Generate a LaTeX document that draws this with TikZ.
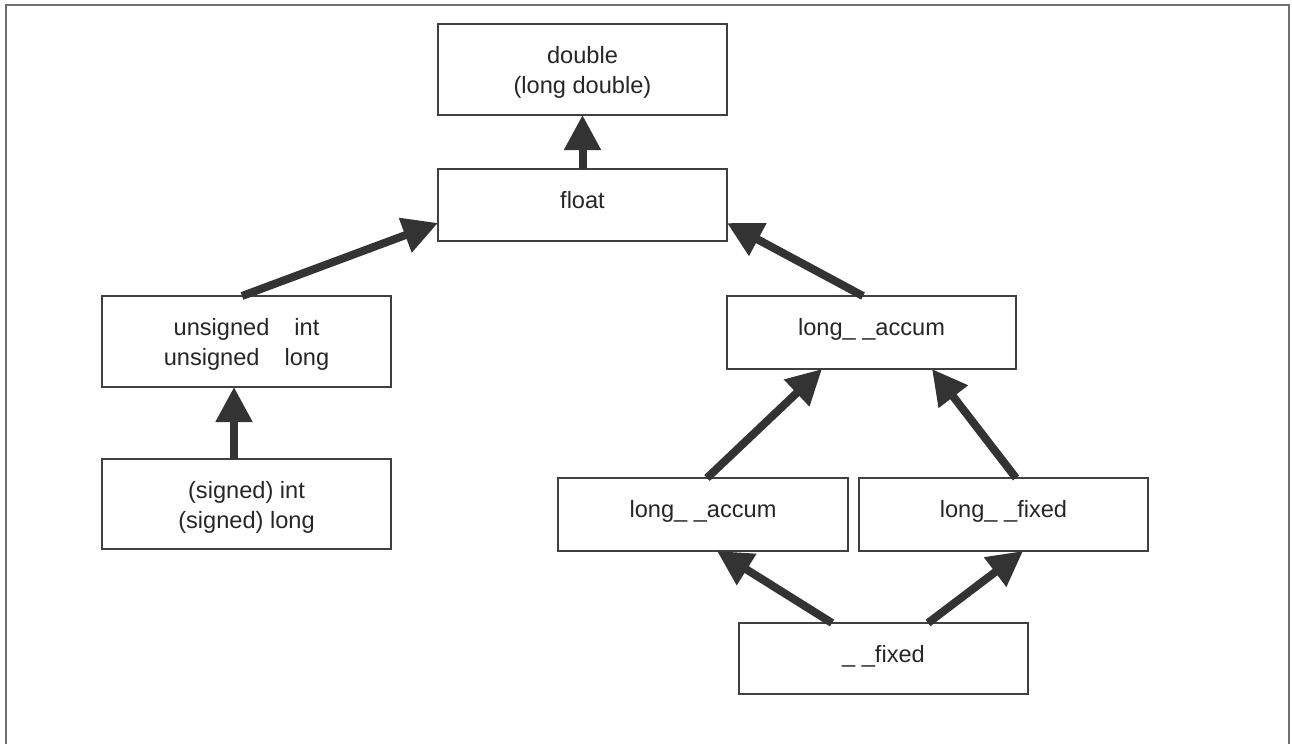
\documentclass[tikz,border=0pt]{standalone}
\usepackage{fontspec}
\setmainfont{Liberation Sans}
\usetikzlibrary{arrows.meta}
\definecolor{edgegray}{HTML}{404040}
\definecolor{arrowgray}{HTML}{333333}
\definecolor{framegray}{HTML}{707070}
% two centred lines, baseline on the first one
\newcommand{\twolines}[2]{\vtop{\baselineskip=15pt\halign{\hfil##\hfil\cr #1\cr #2\cr}}}
\tikzset{
  typebox/.style n args={2}{draw=edgegray, line width=1pt, rectangle, anchor=north west,
    minimum width=#1*0.5pt, minimum height=#2*0.5pt, inner sep=0pt, outer sep=0pt},
  boxtext/.style={anchor=base, yshift=-19.5pt, inner sep=0pt, text=black!85, font=\fontsize{11.8pt}{15pt}\selectfont},
  promote/.style={draw=arrowgray, line width=4pt, -{Triangle[length=17.5pt,width=17.5pt]}},
}
\begin{document}
\begin{tikzpicture}[x=0.5pt, y=-0.5pt]
\useasboundingbox (0,0) rectangle (1292,744);
\draw[framegray, line width=1pt] (6,744) -- (6,5) -- (1289,5) -- (1289,744);

% boxes
\node[typebox={289}{91}, label={[boxtext]north:\twolines{double}{(long double)}}] (dbl) at (438,24) {};
\node[typebox={289}{72}, label={[boxtext]north:float}] (flt) at (438,169) {};
\node[typebox={289}{91}, label={[boxtext]north:\twolines{unsigned\hspace{12.5pt}int}{unsigned\hspace{12.5pt}long}}] (uns) at (102,296) {};
\node[typebox={289}{90}, label={[boxtext]north:\twolines{(signed) int}{(signed) long}}] (sgn) at (102,459) {};
\node[typebox={289}{73}, label={[boxtext]north:long\_ \_accum}] (acc) at (727,296) {};
\node[typebox={290}{73}, label={[boxtext]north:long\_ \_accum}] (accm) at (558,478) {};
\node[typebox={289}{73}, label={[boxtext]north:long\_ \_fixed}] (fixm) at (859,478) {};
\node[typebox={289}{71}, label={[boxtext]north:\_ \_fixed}] (fix) at (739,623) {};

% promotion arrows
\draw[promote] (flt.north) -- (dbl.south);
\draw[promote] ([shift={(140,0)}]uns.north west) -- ([shift={(0,54)}]flt.north west);
\draw[promote] ([shift={(136,0)}]acc.north west) -- ([shift={(0,54)}]flt.north east);
\draw[promote] ([shift={(132,0)}]sgn.north west) -- ([shift={(132,0)}]uns.south west);
\draw[promote] ([shift={(149,0)}]accm.north west) -- ([shift={(95,0)}]acc.south west);
\draw[promote] ([shift={(157,0)}]fixm.north west) -- ([shift={(205,0)}]acc.south west);
\draw[promote] ([shift={(93,0)}]fix.north west) -- ([shift={(159,0)}]accm.south west);
\draw[promote] ([shift={(189,0)}]fix.north west) -- ([shift={(164,0)}]fixm.south west);
\end{tikzpicture}
\end{document}
